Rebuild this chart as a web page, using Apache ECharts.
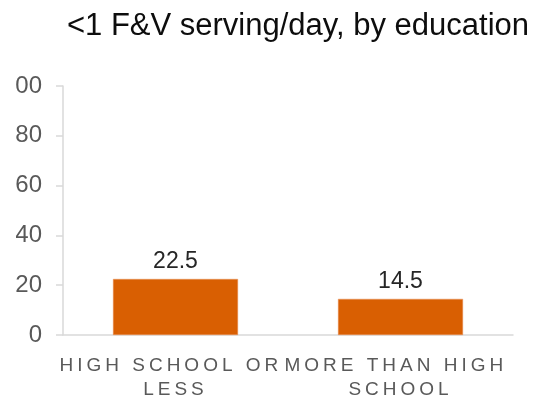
<!DOCTYPE html>
<html>
<head>
<meta charset="utf-8">
<script src="https://cdn.jsdelivr.net/npm/echarts@6/dist/echarts.min.js"></script>
<style>
  html, body { margin: 0; padding: 0; background: #fff; overflow: hidden; }
  /* the frame starts 16px in, so the leading "1" of the top tick label is cut off */
  #wrap { position: absolute; left: 16px; top: 0; width: 523px; height: 396px; overflow: hidden; }
  #chart { position: absolute; left: -16px; top: 0; width: 539px; height: 396px; }
</style>
</head>
<body>
<div id="wrap"><div id="chart"></div></div>
<script>
// Category axis text is drawn with wide tracking; canvas letterSpacing is
// tied to the 19px font used only by those labels.
(function () {
  const d = Object.getOwnPropertyDescriptor(CanvasRenderingContext2D.prototype, 'font');
  Object.defineProperty(CanvasRenderingContext2D.prototype, 'font', {
    configurable: true,
    get() { return d.get.call(this); },
    set(v) {
      d.set.call(this, v);
      if ('letterSpacing' in this) this.letterSpacing = /\b19px\b/.test(v) ? '4px' : '0px';
    }
  });
})();

const titleText = '<1 F&V serving/day, by education';
const categories = ['HIGH SCHOOL OR LESS', 'MORE THAN HIGH SCHOOL'];
const values = [22.5, 14.5];
const yTicks = [0, 20, 40, 60, 80, 100];

const chart = echarts.init(document.getElementById('chart'), null, { renderer: 'canvas' });
chart.setOption({
  animation: false,
  backgroundColor: '#ffffff',
  title: {
    text: titleText,
    left: 293,
    top: 6,
    textAlign: 'center',
    textStyle: { fontFamily: 'Arial', fontSize: 31, fontWeight: 'normal', color: '#0d0d0d' }
  },
  grid: { left: 63, right: 26, top: 86, bottom: 61, containLabel: false, outerBoundsMode: 'none' },
  xAxis: {
    type: 'category',
    data: categories,
    axisLine: { show: true, lineStyle: { color: '#d9d9d9', width: 1.5 } },
    axisTick: { show: false },
    axisLabel: {
      interval: 0,
      margin: 19,
      width: 250,
      overflow: 'break',
      lineHeight: 24,
      fontFamily: 'Arial',
      fontSize: 19,
      color: '#595959'
    }
  },
  yAxis: {
    type: 'value',
    min: yTicks[0],
    max: yTicks[yTicks.length - 1],
    interval: yTicks[1] - yTicks[0],
    axisLine: { show: true, lineStyle: { color: '#d9d9d9', width: 1.5 } },
    axisTick: { show: true, length: 7, lineStyle: { color: '#d9d9d9', width: 1.5 } },
    splitLine: { show: false },
    axisLabel: { margin: 21, fontFamily: 'Arial', fontSize: 24, color: '#595959' }
  },
  series: [{
    type: 'bar',
    data: values,
    barWidth: 125,
    itemStyle: { color: '#d95f02', borderColor: '#e8915a', borderWidth: 0.5 },
    label: {
      show: true,
      position: 'top',
      distance: 6,
      fontFamily: 'Arial',
      fontSize: 23,
      color: '#262626',
      formatter: p => p.value.toFixed(1)
    }
  }]
});
</script>
</body>
</html>
